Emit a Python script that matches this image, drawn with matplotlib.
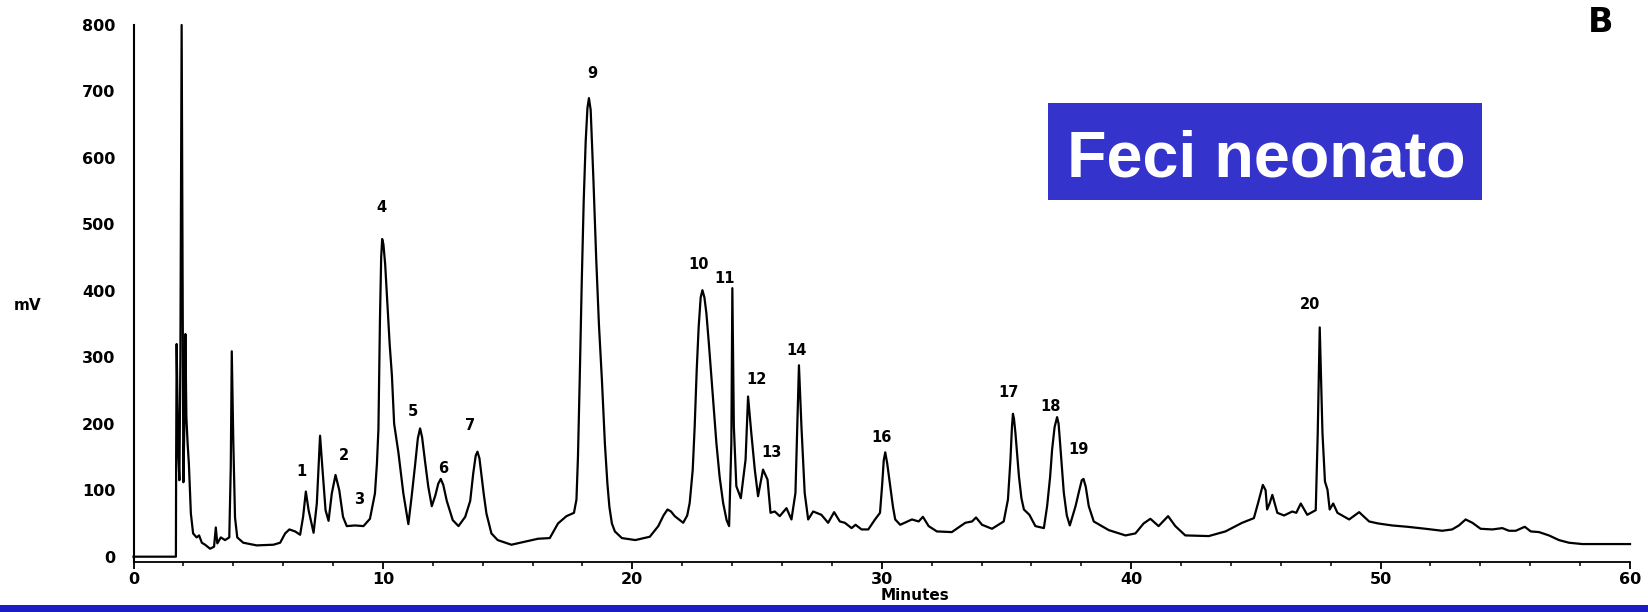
import matplotlib
matplotlib.use("Agg")
import matplotlib.pyplot as plt
from matplotlib.patches import Rectangle
from matplotlib.ticker import MultipleLocator

# Chromatogram trace: retention time (min) and detector signal (mV)
t_min = [0.00, 1.70, 1.71, 1.73, 1.76, 1.80, 1.84, 1.88, 1.93, 1.97,
         2.00, 2.04, 2.08, 2.12, 2.17, 2.22, 2.30, 2.39, 2.53, 2.63,
         2.74, 2.87, 3.07, 3.23, 3.30, 3.36, 3.50, 3.67, 3.84, 3.90,
         3.94, 4.00, 4.07, 4.16, 4.40, 4.94, 5.61, 5.88, 6.08, 6.25,
         6.48, 6.68, 6.80, 6.91, 7.02, 7.22, 7.35, 7.48, 7.58, 7.70,
         7.82, 7.95, 8.10, 8.25, 8.40, 8.55, 8.88, 9.22, 9.48, 9.68,
         9.76, 9.82, 9.88, 9.93, 9.97, 10.02, 10.09, 10.18, 10.27, 10.36,
         10.45, 10.62, 10.82, 11.02, 11.15, 11.29, 11.40, 11.49, 11.57, 11.69,
         11.82, 11.96, 12.10, 12.22, 12.32, 12.42, 12.56, 12.80, 13.03, 13.30,
         13.50, 13.62, 13.72, 13.79, 13.87, 13.96, 14.04, 14.15, 14.35, 14.60,
         15.15, 16.22, 16.69, 17.02, 17.36, 17.66, 17.76, 17.82, 17.89, 17.97,
         18.05, 18.13, 18.20, 18.26, 18.33, 18.44, 18.55, 18.66, 18.78, 18.90,
         19.00, 19.08, 19.18, 19.30, 19.58, 20.12, 20.70, 21.04, 21.25, 21.41,
         21.55, 21.70, 22.04, 22.20, 22.30, 22.42, 22.50, 22.58, 22.66, 22.74,
         22.81, 22.89, 22.97, 23.07, 23.17, 23.27, 23.37, 23.50, 23.64, 23.78,
         23.88, 23.97, 24.01, 24.07, 24.17, 24.35, 24.54, 24.64, 24.77, 24.91,
         25.04, 25.24, 25.42, 25.54, 25.71, 25.91, 26.18, 26.38, 26.54, 26.68,
         26.78, 26.91, 27.05, 27.25, 27.58, 27.85, 28.09, 28.32, 28.52, 28.79,
         28.95, 29.19, 29.46, 29.73, 29.93, 30.02, 30.08, 30.14, 30.22, 30.34,
         30.45, 30.54, 30.74, 31.21, 31.48, 31.65, 31.88, 32.21, 32.81, 33.35,
         33.62, 33.78, 34.02, 34.42, 34.89, 35.06, 35.16, 35.22, 35.26, 35.30,
         35.36, 35.50, 35.60, 35.70, 35.92, 36.16, 36.50, 36.63, 36.75, 36.83,
         36.93, 37.03, 37.09, 37.14, 37.30, 37.42, 37.54, 37.77, 37.92, 38.02,
         38.09, 38.18, 38.30, 38.50, 39.10, 39.77, 40.17, 40.50, 40.77, 41.10,
         41.48, 41.77, 42.17, 43.11, 43.78, 44.45, 44.92, 45.09, 45.28, 45.39,
         45.45, 45.55, 45.66, 45.86, 46.13, 46.46, 46.62, 46.80, 47.06, 47.40,
         47.48, 47.56, 47.67, 47.77, 47.87, 47.96, 48.10, 48.27, 48.74, 49.14,
         49.54, 49.90, 50.46, 51.07, 51.80, 52.47, 52.87, 53.14, 53.41, 53.68,
         54.01, 54.48, 54.88, 55.15, 55.42, 55.78, 56.02, 56.35, 56.75, 57.15,
         57.55, 58.09, 60.00]

signal_mv = [0, 0, 150, 320, 240, 150, 115, 300, 800, 420,
             112, 200, 335, 210, 170, 140, 65, 35, 29, 32,
             21, 18, 12, 15, 44, 20, 29, 25, 29, 135,
             309, 176, 59, 29, 21, 17, 18, 21, 35, 41,
             38, 33, 60, 98, 70, 36, 80, 182, 130, 70,
             54, 95, 123, 100, 60, 46, 47, 46, 57, 95,
             140, 192, 354, 450, 478, 470, 440, 381, 320, 273,
             200, 157, 95, 49, 90, 138, 178, 193, 180, 143,
             105, 76, 92, 110, 117, 108, 84, 55, 46, 60,
             84, 125, 152, 158, 148, 120, 95, 65, 35, 25,
             18, 27, 28, 50, 61, 66, 86, 150, 266, 410,
             535, 625, 675, 690, 672, 567, 450, 350, 266, 170,
             110, 75, 50, 38, 28, 25, 30, 46, 62, 71,
             68, 61, 51, 62, 81, 130, 196, 280, 346, 390,
             401, 390, 366, 320, 271, 220, 171, 120, 81, 55,
             46, 171, 404, 196, 106, 88, 146, 241, 186, 131,
             91, 131, 116, 66, 68, 61, 73, 56, 96, 288,
             196, 96, 56, 68, 63, 51, 67, 53, 51, 43,
             48, 41, 41, 56, 66, 110, 145, 157, 140, 106,
             75, 56, 48, 56, 53, 60, 46, 38, 37, 51,
             53, 59, 48, 42, 53, 86, 146, 195, 215, 208,
             186, 121, 88, 71, 63, 46, 43, 76, 120, 161,
             195, 210, 200, 176, 96, 62, 47, 76, 100, 115,
             117, 105, 76, 53, 40, 32, 35, 50, 57, 46,
             61, 46, 32, 31, 38, 51, 58, 81, 108, 100,
             71, 80, 93, 66, 62, 68, 66, 80, 63, 70,
             186, 345, 186, 113, 101, 71, 80, 66, 56, 67,
             53, 50, 47, 45, 42, 39, 41, 47, 56, 51,
             42, 41, 43, 39, 39, 45, 38, 37, 32, 25,
             21, 19, 19]

# Numbered peak annotations
peak_ids = ["1", "2", "3", "4", "5", "6", "7", "9", "10", "11", "12", "13", "14",
            "16", "17", "18", "19", "20"]
peak_label_t = [6.72, 8.44, 9.06, 9.93, 11.22, 12.43, 13.50, 18.38, 22.66, 23.70,
                24.96, 25.57, 26.60, 30.01, 35.07, 36.76, 37.90, 47.19]
peak_label_mv = [128, 152, 86, 526, 219, 132, 198, 727, 440, 419,
                 266, 157, 310, 180, 247, 226, 161, 380]

y_ticks = [0, 100, 200, 300, 400, 500, 600, 700, 800]
x_ticks = [0, 10, 20, 30, 40, 50, 60]

W, H = 1648, 612
fig = plt.figure(figsize=(W / 100, H / 100), dpi=100)
fig.patch.set_facecolor("white")

ax = fig.add_axes([133.5 / W, 50 / H, 1496.5 / W, 543.65 / H])
ax.set_xlim(0, 60)
ax.set_ylim(-8, 810)

ax.plot(t_min, signal_mv, color="black", lw=1.6, clip_on=False,
        solid_joinstyle="round")

for s in ("top", "right"):
    ax.spines[s].set_visible(False)
ax.spines["left"].set_bounds(-8, 800)
ax.spines["left"].set_linewidth(1.5)
ax.spines["bottom"].set_bounds(0, 60)
ax.spines["bottom"].set_linewidth(1.3)

tick_font = dict(family="DejaVu Sans", weight="bold", size=11.5)
ax.set_xticks(x_ticks)
ax.set_xticklabels([str(v) for v in x_ticks], fontdict=tick_font)
ax.xaxis.set_minor_locator(MultipleLocator(2))
ax.tick_params(axis="x", which="major", direction="out", length=5, width=1.3, pad=2)
ax.tick_params(axis="x", which="minor", direction="out", length=3, width=1.1)
ax.set_yticks(y_ticks)
ax.set_yticklabels([str(v) for v in y_ticks], fontdict=tick_font)
ax.tick_params(axis="y", length=0, pad=13)

for pid, lt, lm in zip(peak_ids, peak_label_t, peak_label_mv):
    ax.text(lt, lm, pid, ha="center", va="center", fontsize=10.5,
            fontweight="bold", family="DejaVu Sans")

fig.text(914.5 / W, 1 - 595 / H, "Minutes", ha="center", va="center",
         fontsize=11, fontweight="bold", family="DejaVu Sans")
fig.text(28 / W, 1 - 305 / H, "mV", ha="center", va="center",
         fontsize=11, fontweight="bold", family="DejaVu Sans")
fig.text(1601 / W, 1 - 22 / H, "B", ha="center", va="center",
         fontsize=24, fontweight="bold", family="DejaVu Sans")

# Sample label box
fig.patches.append(Rectangle((1048 / W, 1 - 200 / H), 434 / W, 97 / H,
                             transform=fig.transFigure, facecolor="#3434CC",
                             edgecolor="none", zorder=5))
fig.text(1266.5 / W, 1 - 176.7 / H, "Feci neonato", ha="center", va="baseline",
         fontsize=46.5, fontweight="bold", family="Liberation Sans",
         color="white", zorder=6)

# Bottom rule
fig.patches.append(Rectangle((0, 0), 1, 7 / H, transform=fig.transFigure,
                             facecolor="#1c1cc4", edgecolor="none", zorder=5))

fig.savefig("out.png", dpi=100, facecolor="white")
